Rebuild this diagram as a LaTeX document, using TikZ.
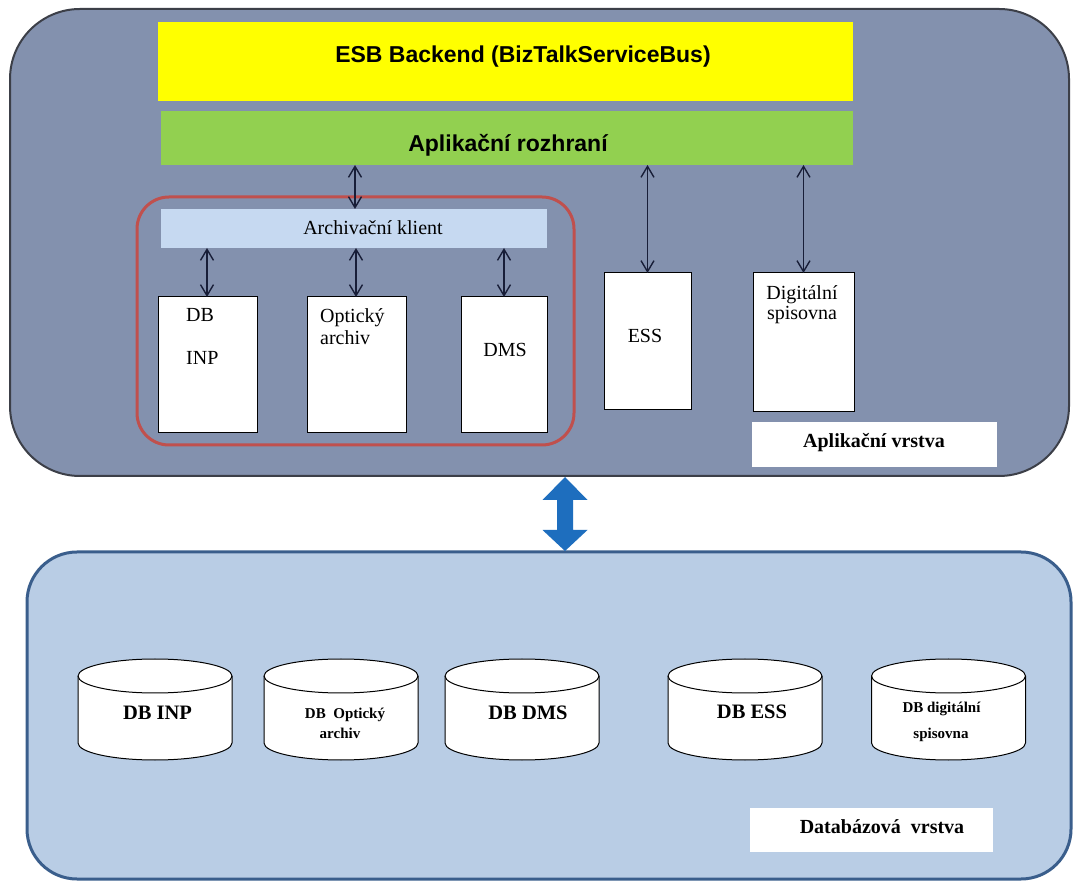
\documentclass[tikz,border=0pt]{standalone}
\usepackage{fontspec}
\setmainfont{Liberation Serif}
\newfontfamily\headfont{Liberation Sans}
\usetikzlibrary{arrows.meta,calc}

\definecolor{appfill}{RGB}{131,145,174}
\definecolor{appline}{RGB}{60,63,72}
\definecolor{dbfill}{RGB}{185,205,229}
\definecolor{dbline}{RGB}{58,94,140}
\definecolor{esbyellow}{RGB}{255,255,0}
\definecolor{apigreen}{RGB}{146,208,80}
\definecolor{clientblue}{RGB}{198,217,241}
\definecolor{archred}{RGB}{192,80,77}
\definecolor{linkblue}{RGB}{30,110,190}
\definecolor{linkdark}{RGB}{24,30,56}

% database cylinder: #1 name, #2 centre x
\newcommand\dbcylinder[2]{%
  \filldraw[fill=white,draw=black,line width=1pt]
    ({#2-77},205) -- ({#2-77},138)
    arc[start angle=180,end angle=360,x radius=77,y radius=17]
    -- ({#2+77},205)
    arc[start angle=0,end angle=180,x radius=77,y radius=17] -- cycle;
  \draw[black,line width=1pt] ({#2-77},205)
    arc[start angle=180,end angle=360,x radius=77,y radius=17];
  \coordinate (#1) at (#2,171);
}

\begin{document}
\begin{tikzpicture}[x=1pt,y=1pt,
  box/.style={anchor=north west,inner sep=0pt,outer sep=0pt},
  plain/.style={box,draw=black,line width=1pt,fill=white},
  serif/.style={inner sep=0pt,font=\fontsize{20}{24}\selectfont},
  serifbold/.style={inner sep=0pt,font=\fontsize{20}{24}\selectfont\bfseries},
  cyltext/.style={inner sep=0pt,font=\fontsize{20.5}{24}\selectfont\bfseries},
  cylsmall/.style={inner sep=0pt,font=\fontsize{15}{18}\selectfont\bfseries},
  headtext/.style={inner sep=0pt,font=\headfont\fontsize{23}{27}\selectfont\bfseries},
  link/.style={linkdark,line width=1.4pt,
    {Straight Barb[length=11pt,width=13pt]}-{Straight Barb[length=11pt,width=13pt]}}
]
\useasboundingbox (0,0) rectangle (1073,881);
\fill[white] (0,0) rectangle (1073,881);

% application layer
\node[box,draw=appline,fill=appfill,line width=2pt,rounded corners=70pt,
  minimum width=1059pt,minimum height=467pt] (app) at (10,872) {};
\node[box,fill=esbyellow,minimum width=695pt,minimum height=79pt] (esb) at (158,859) {};
\node[headtext,anchor=base] (esbt) at (523,818) {ESB Backend (BizTalkServiceBus)};
\node[box,fill=apigreen,minimum width=692pt,minimum height=54pt] (api) at (161,770) {};
\node[headtext,anchor=base] (apit) at (508,729) {Aplikační rozhraní};

% archiving group
\node[box,draw=archred,line width=3pt,rounded corners=32pt,
  minimum width=437pt,minimum height=248pt] (arch) at (137,684) {};
\node[box,fill=clientblue,minimum width=386pt,minimum height=39pt] (client) at (161,672) {};
\node[serif,anchor=base] (clientt) at (373,646) {Archivační klient};

\node[plain,minimum width=99pt,minimum height=136pt] (inp) at (158,584) {};
\node[serif,anchor=base west] (inpa) at (186,559) {DB};
\node[serif,anchor=base west] (inpb) at (186,516) {INP};

\node[plain,minimum width=99pt,minimum height=136pt] (opt) at (307,584) {};
\node[serif,anchor=base west] (opta) at (320,558) {Optický};
\node[serif,anchor=base west] (optb) at (320,536) {archiv};

\node[plain,minimum width=86pt,minimum height=136pt] (dms) at (461,584) {};
\node[serif,anchor=base] (dmst) at (505,524) {DMS};

\node[plain,minimum width=87pt,minimum height=137pt] (ess) at (604,608) {};
\node[serif,anchor=base] (esst) at (645,538) {ESS};

\node[plain,minimum width=101pt,minimum height=139pt] (dig) at (753,608) {};
\node[serif,anchor=base] (diga) at (802,581) {Digitální};
\node[serif,anchor=base] (digb) at (802,561) {spisovna};

\node[box,fill=white,minimum width=245pt,minimum height=45pt] (applbl) at (752,459) {};
\node[serifbold,anchor=base] (applblt) at (874,433) {Aplikační vrstva};

% links inside the application layer
\draw[link] (api.south -| 355,0) -- (client.north -| 355,0);
\draw[link] (client.south -| 207,0) -- (inp.north -| 207,0);
\draw[link] (client.south -| 356,0) -- (opt.north -| 356,0);
\draw[link] (client.south -| 504,0) -- (dms.north);
\draw[link] (api.south -| ess.north) -- (ess.north);
\draw[link] (api.south -| dig.north) -- (dig.north);

% database layer
\node[box,draw=dbline,fill=dbfill,line width=3pt,rounded corners=50pt,
  minimum width=1044pt,minimum height=327pt] (db) at (27,329) {};

\dbcylinder{cinp}{155}
\dbcylinder{copt}{341}
\dbcylinder{cdms}{522}
\dbcylinder{cess}{745}
\dbcylinder{cdig}{948.5}

\node[cyltext,anchor=base] (cinpt) at (157.5,162) {DB INP};
\node[cylsmall,anchor=base] (copta) at (345,163) {DB\ \ Optický};
\node[cylsmall,anchor=base] (coptb) at (340,143) {archiv};
\node[cyltext,anchor=base] (cdmst) at (528,162) {DB DMS};
\node[cyltext,anchor=base] (cesst) at (752,163) {DB ESS};
\node[cylsmall,anchor=base] (cdiga) at (941.5,168) {DB digitální};
\node[cylsmall,anchor=base] (cdigb) at (941,143) {spisovna};

\node[box,fill=white,minimum width=243pt,minimum height=44pt] (dblbl) at (750,73) {};
\node[serifbold,anchor=base] (dblblt) at (882,48) {Databázová\ \ vrstva};

% block arrow between the two layers
\coordinate (bt) at (565,404);
\coordinate (bb) at (565,330);
\fill[linkblue] (bt) -- ($(bt)+(22.5,-23)$) -- ($(bt)+(8,-23)$)
  -- ($(bb)+(8,21)$) -- ($(bb)+(22.5,21)$) -- (bb)
  -- ($(bb)+(-22.5,21)$) -- ($(bb)+(-8,21)$)
  -- ($(bt)+(-8,-23)$) -- ($(bt)+(-22.5,-23)$) -- cycle;
\end{tikzpicture}
\end{document}
